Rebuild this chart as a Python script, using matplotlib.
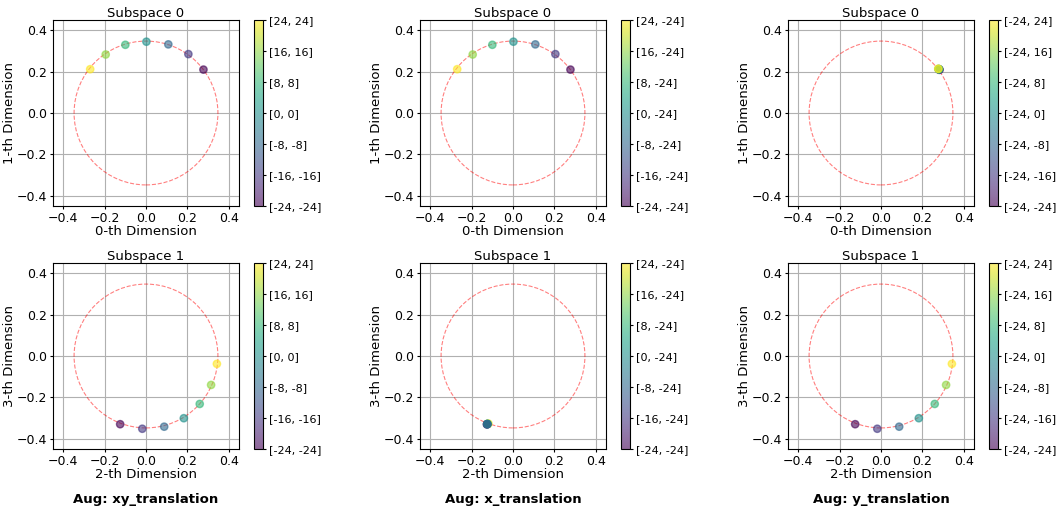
import numpy as np
import matplotlib.pyplot as plt
from matplotlib.patches import Circle

# colour values (translation step) and labels per augmentation
shift = [-24, -16, -8, 0, 8, 16, 24]
labels_xy = ['[-24, -24]', '[-16, -16]', '[-8, -8]', '[0, 0]', '[8, 8]', '[16, 16]', '[24, 24]']
labels_x = ['[-24, -24]', '[-16, -24]', '[-8, -24]', '[0, -24]', '[8, -24]', '[16, -24]', '[24, -24]']
labels_y = ['[-24, -24]', '[-24, -16]', '[-24, -8]', '[-24, 0]', '[-24, 8]', '[-24, 16]', '[-24, 24]']

# subspace 0 (dims 0,1) coordinates, ordered like shift
xy_s0_x = [0.278, 0.205, 0.108, 0.002, -0.100, -0.195, -0.270]
xy_s0_y = [0.210, 0.285, 0.332, 0.345, 0.330, 0.283, 0.212]
# subspace 1 (dims 2,3)
xy_s1_x = [-0.125, -0.018, 0.088, 0.183, 0.260, 0.315, 0.343]
xy_s1_y = [-0.330, -0.352, -0.342, -0.301, -0.232, -0.140, -0.038]

x_s0_x = xy_s0_x
x_s0_y = xy_s0_y
x_s1_x = [-0.126, -0.125, -0.125, -0.124, -0.124, -0.122, -0.119]
x_s1_y = [-0.331, -0.330, -0.330, -0.329, -0.329, -0.328, -0.327]

y_s0_x = [0.283, 0.282, 0.281, 0.280, 0.279, 0.278, 0.277]
y_s0_y = [0.209, 0.210, 0.211, 0.212, 0.213, 0.213, 0.214]
y_s1_x = xy_s1_x
y_s1_y = xy_s1_y

augs = ['xy_translation', 'x_translation', 'y_translation']
labels = [labels_xy, labels_x, labels_y]
data = [
    [(xy_s0_x, xy_s0_y), (xy_s1_x, xy_s1_y)],
    [(x_s0_x, x_s0_y), (x_s1_x, x_s1_y)],
    [(y_s0_x, y_s0_y), (y_s1_x, y_s1_y)],
]
radius = 0.348

W, H = 1058, 513
fig = plt.figure(figsize=(W / 100, H / 100), dpi=100)

lefts = [53, 420, 788]
tops = [20, 263]
size = 186

for col in range(3):
    for row in range(2):
        l = lefts[col]
        t = tops[row]
        ax = fig.add_axes([l / W, (H - t - size) / H, size / W, size / H])
        cax = fig.add_axes([(l + 201) / W, (H - t - size) / H, 9 / W, size / H])
        xs, ys = np.array(data[col][row][0]), np.array(data[col][row][1])
        c = np.array(shift)
        if col == 1 and row == 1:
            # stacked points, yellow one ends up underneath
            order = [6, 5, 4, 0, 1, 3, 2]
            xs, ys, c = xs[order], ys[order], c[order]
        ax.add_patch(Circle((0, 0), radius, fill=False, color='red', ls='--', lw=0.8, alpha=0.5))
        sc = ax.scatter(xs, ys, c=c, cmap='viridis', alpha=0.6, s=28, zorder=3)
        ax.set_xlim(-0.45, 0.45)
        ax.set_ylim(-0.45, 0.45)
        ax.set_xticks([-0.4, -0.2, 0.0, 0.2, 0.4])
        ax.set_yticks([-0.4, -0.2, 0.0, 0.2, 0.4])
        ax.tick_params(labelsize=9, length=2.5, pad=2)
        ax.grid(True)
        ax.set_axisbelow(True)
        ax.set_title('Subspace %d' % row, fontsize=9.5, pad=2)
        ax.set_xlabel('%d-th Dimension' % (2 * row), fontsize=9.5)
        ax.set_ylabel('%d-th Dimension' % (2 * row + 1), fontsize=9.5)
        ax.xaxis.set_label_coords(0.5, -0.10)
        ax.yaxis.set_label_coords(-0.2, 0.5)
        cb = fig.colorbar(sc, cax=cax, ticks=shift)
        cb.ax.set_yticklabels(labels[col])
        cb.ax.tick_params(labelsize=8, length=2.5, pad=1.5)
    fig.text((lefts[col] + size / 2) / W, 1 - 500 / H, 'Aug: ' + augs[col],
             ha='center', va='center', fontsize=9.5, fontweight='bold')

fig.savefig('out.png', dpi=100)
